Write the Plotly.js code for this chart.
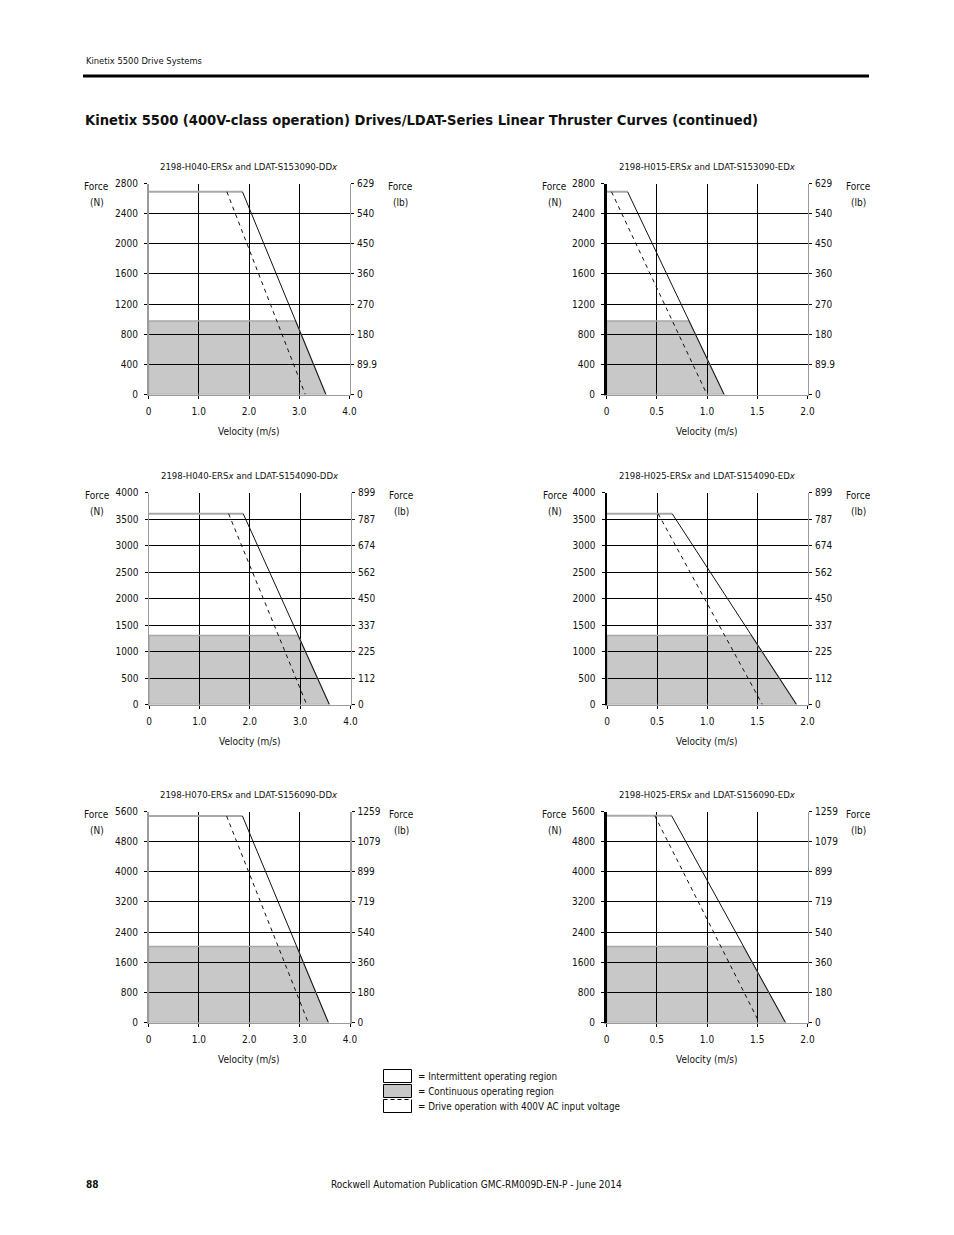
<!DOCTYPE html>
<html>
<head>
<meta charset="utf-8">
<script src="https://cdn.plot.ly/plotly-3.0.1.min.js"></script>
<style>
  html, body { margin: 0; padding: 0; background: #fff; }
  #chart { width: 954px; height: 1235px; }
  text { font-stretch: condensed; }
</style>
</head>
<body>
<div id="chart"></div>
<script>
// chart data
const chartTitles = [
  '2198-H040-ERS<i>x</i> and LDAT-S153090-DD<i>x</i>',
  '2198-H015-ERS<i>x</i> and LDAT-S153090-ED<i>x</i>',
  '2198-H040-ERS<i>x</i> and LDAT-S154090-DD<i>x</i>',
  '2198-H025-ERS<i>x</i> and LDAT-S154090-ED<i>x</i>',
  '2198-H070-ERS<i>x</i> and LDAT-S156090-DD<i>x</i>',
  '2198-H025-ERS<i>x</i> and LDAT-S156090-ED<i>x</i>',
]

const velTicksWide = [0, 1, 2, 3, 4]
const velLabelsWide = ['0', '1.0', '2.0', '3.0', '4.0']
const velTicksNarrow = [0, 0.5, 1, 1.5, 2]
const velLabelsNarrow = ['0', '0.5', '1.0', '1.5', '2.0']

const forceTicks2800 = [0, 400, 800, 1200, 1600, 2000, 2400, 2800]
const lbLabels2800 = ['0', '89.9', '180', '270', '360', '450', '540', '629']
const forceTicks4000 = [0, 500, 1000, 1500, 2000, 2500, 3000, 3500, 4000]
const lbLabels4000 = ['0', '112', '225', '337', '450', '562', '674', '787', '899']
const forceTicks5600 = [0, 800, 1600, 2400, 3200, 4000, 4800, 5600]
const lbLabels5600 = ['0', '180', '360', '540', '719', '899', '1079', '1259']

// peak (intermittent) curve
const peakForce = [2690, 2690, 3600, 3600, 5480, 5490]
const kneeVel = [1.87, 0.21, 1.87, 0.65, 1.865, 0.647]
const endVel = [3.53, 1.17, 3.58, 1.89, 3.57, 1.78]
// 400V AC input curve (dashed)
const dashStartVel = [1.56, 0.05, 1.58, 0.51, 1.55, 0.48]
const dashEndVel = [3.12, 1.0, 3.13, 1.55, 3.17, 1.52]
// continuous region
const contForce = [975, 975, 1300, 1300, 2020, 2020]
const contEdgeVel = [2.93, 0.82, 2.96, 1.44, 2.94, 1.36]

const W = 954
const H = 1235
const px = v => v / W
const py = v => 1 - v / H
const FONT = 'DejaVu Sans Condensed, DejaVu Sans, sans-serif'
const FS = 10

// plot area boxes in page pixels: left, top, right, bottom
const boxes = [
  [148.5, 183.5, 349.5, 394.5],
  [606.5, 183.5, 807.5, 394.5],
  [149, 492.5, 350.5, 704.5],
  [607, 492.5, 807.5, 704.5],
  [148.5, 811.5, 350, 1022.5],
  [606.5, 811.5, 807.5, 1022.5],
]

const forceTicks = [forceTicks2800, forceTicks2800, forceTicks4000, forceTicks4000, forceTicks5600, forceTicks5600]
const lbLabels = [lbLabels2800, lbLabels2800, lbLabels4000, lbLabels4000, lbLabels5600, lbLabels5600]

const traces = []
const layout = {
  width: W,
  height: H,
  margin: { l: 0, r: 0, t: 0, b: 0 },
  paper_bgcolor: '#fff',
  plot_bgcolor: 'rgba(0,0,0,0)',
  showlegend: false,
  font: { family: FONT, size: FS, color: '#111' },
  annotations: [],
  shapes: [],
}

const txt = (text, x, y, opts) => Object.assign({
  text, x: px(x), y: py(y), xref: 'paper', yref: 'paper',
  showarrow: false, xanchor: 'center', yanchor: 'middle',
  font: { family: FONT, size: FS, color: '#111' },
}, opts || {})

const tickFont = { family: FONT, size: FS, color: '#111' }

boxes.forEach((b, i) => {
  const n = i + 1
  const xa = n === 1 ? 'x' : 'x' + n
  const ya = n === 1 ? 'y' : 'y' + n
  const ya2 = 'y' + (n + 6)
  const wide = i % 2 === 0
  const yTicks = forceTicks[i]
  const yMax = yTicks[yTicks.length - 1]
  const eSeries = !wide

  layout['xaxis' + (n === 1 ? '' : n)] = {
    domain: [px(b[0]), px(b[2])],
    anchor: ya,
    range: [0, wide ? 4 : 2],
    tickvals: wide ? velTicksWide : velTicksNarrow,
    ticktext: wide ? velLabelsWide : velLabelsNarrow,
    ticks: 'outside', ticklen: 3, tickcolor: '#000',
    ticklabelstandoff: 4,
    showgrid: true, gridcolor: '#000', gridwidth: 1,
    zeroline: false,
    showline: true, linecolor: '#9a9a9a', linewidth: 1.5,
    tickfont: tickFont,
    fixedrange: true,
  }
  layout['yaxis' + (n === 1 ? '' : n)] = {
    domain: [py(b[3]), py(b[1])],
    anchor: xa,
    range: [0, yMax],
    tickvals: yTicks,
    ticktext: yTicks.map(String),
    ticks: 'outside', ticklen: 3, tickcolor: '#000',
    ticklabelstandoff: 4,
    showgrid: true, gridcolor: '#000', gridwidth: 1,
    zeroline: false,
    showline: true,
    linecolor: eSeries ? '#000' : '#9a9a9a',
    linewidth: eSeries ? 2.5 : 1.5,
    tickfont: tickFont,
    fixedrange: true,
  }
  // right hand axis in pounds, same scale as newtons
  layout['yaxis' + (n + 6)] = {
    overlaying: ya,
    side: 'right',
    anchor: xa,
    range: [0, yMax],
    tickvals: yTicks,
    ticktext: lbLabels[i],
    ticks: 'outside', ticklen: 3, tickcolor: '#000',
    ticklabelstandoff: 1,
    showgrid: false, zeroline: false,
    showline: true, linecolor: '#9a9a9a', linewidth: 1.5,
    tickfont: tickFont,
    fixedrange: true,
  }

  // continuous operating region
  traces.push({
    type: 'scatter', mode: 'lines', xaxis: xa, yaxis: ya,
    x: [0, 0, contEdgeVel[i], endVel[i], 0],
    y: [0, contForce[i], contForce[i], 0, 0],
    fill: 'toself', fillcolor: 'rgba(0,0,0,0.215)',
    line: { color: '#a8a8a8', width: 1.5 },
    hoverinfo: 'skip',
  })
  // intermittent region: flat peak part
  traces.push({
    type: 'scatter', mode: 'lines', xaxis: xa, yaxis: ya,
    x: [0, kneeVel[i]], y: [peakForce[i], peakForce[i]],
    line: { color: '#a8a8a8', width: 2 },
    hoverinfo: 'skip',
  })
  // intermittent region: falling edge
  traces.push({
    type: 'scatter', mode: 'lines', xaxis: xa, yaxis: ya,
    x: [kneeVel[i], endVel[i]], y: [peakForce[i], 0],
    line: { color: '#111', width: 1 },
    hoverinfo: 'skip',
  })
  // 400V AC input (on the lb axis so that axis gets drawn; same range)
  traces.push({
    type: 'scatter', mode: 'lines', xaxis: xa, yaxis: ya2,
    x: [dashStartVel[i], dashEndVel[i]], y: [peakForce[i], 0],
    line: { color: '#111', width: 1, dash: '4px,4px' },
    hoverinfo: 'skip',
  })

  const cx = (b[0] + b[2]) / 2
  layout.annotations.push(
    txt(chartTitles[i], cx, b[1] - 17, { font: { family: FONT, size: 9.5, color: '#111' } }),
    txt('Force', b[0] - 52, b[1] + 3),
    txt('(N)', b[0] - 52, b[1] + 19),
    txt('Force', b[2] + 51, b[1] + 3),
    txt('(lb)', b[2] + 51, b[1] + 19),
    txt('Velocity (m/s)', cx, b[3] + 37),
  )
})

// page header / footer
layout.annotations.push(
  txt('Kinetix 5500 Drive Systems', 84, 60, { xanchor: 'left', font: { family: FONT, size: 9.3, color: '#111' } }),
  txt('<b>Kinetix 5500 (400V-class operation) Drives/LDAT-Series Linear Thruster Curves (continued)</b>', 83, 119,
    { xanchor: 'left', font: { family: FONT, size: 14.6, color: '#111' } }),
  txt('<b>88</b>', 84, 1184, { xanchor: 'left', font: { family: FONT, size: FS, color: '#111' } }),
  txt('Rockwell Automation Publication GMC-RM009D-EN-P - June 2014', 476, 1184, { font: { family: FONT, size: FS, color: '#111' } }),
  txt('= Intermittent operating region', 416, 1076, { xanchor: 'left', font: { family: FONT, size: 9.8, color: '#111' } }),
  txt('= Continuous operating region', 416, 1091, { xanchor: 'left', font: { family: FONT, size: 9.8, color: '#111' } }),
  txt('= Drive operation with 400V AC input voltage', 416, 1106, { xanchor: 'left', font: { family: FONT, size: 9.8, color: '#111' } }),
)

const rect = (x0, y0, x1, y1, fill, line) => ({
  type: 'rect', xref: 'paper', yref: 'paper',
  x0: px(x0), x1: px(x1), y0: py(y1), y1: py(y0),
  fillcolor: fill, line: line || { color: '#000', width: 1 },
})
const seg = (x0, y0, x1, y1, line) => ({
  type: 'line', xref: 'paper', yref: 'paper',
  x0: px(x0), x1: px(x1), y0: py(y0), y1: py(y1), line,
})

layout.shapes.push(
  rect(83, 74.5, 869, 77.5, '#000', { width: 0 }),
  rect(383.5, 1069.5, 411.5, 1082.5, '#fff'),
  rect(383.5, 1084.5, 411.5, 1097.5, '#c8c8c8'),
  seg(383.5, 1099.5, 383.5, 1112.5, { color: '#000', width: 1 }),
  seg(411.5, 1099.5, 411.5, 1112.5, { color: '#000', width: 1 }),
  seg(383.5, 1112.5, 411.5, 1112.5, { color: '#000', width: 1 }),
  seg(383.5, 1099.5, 411.5, 1099.5, { color: '#000', width: 1, dash: '4px,3px' }),
)

Plotly.newPlot('chart', traces, layout, { displayModeBar: false, staticPlot: true })
</script>
</body>
</html>
